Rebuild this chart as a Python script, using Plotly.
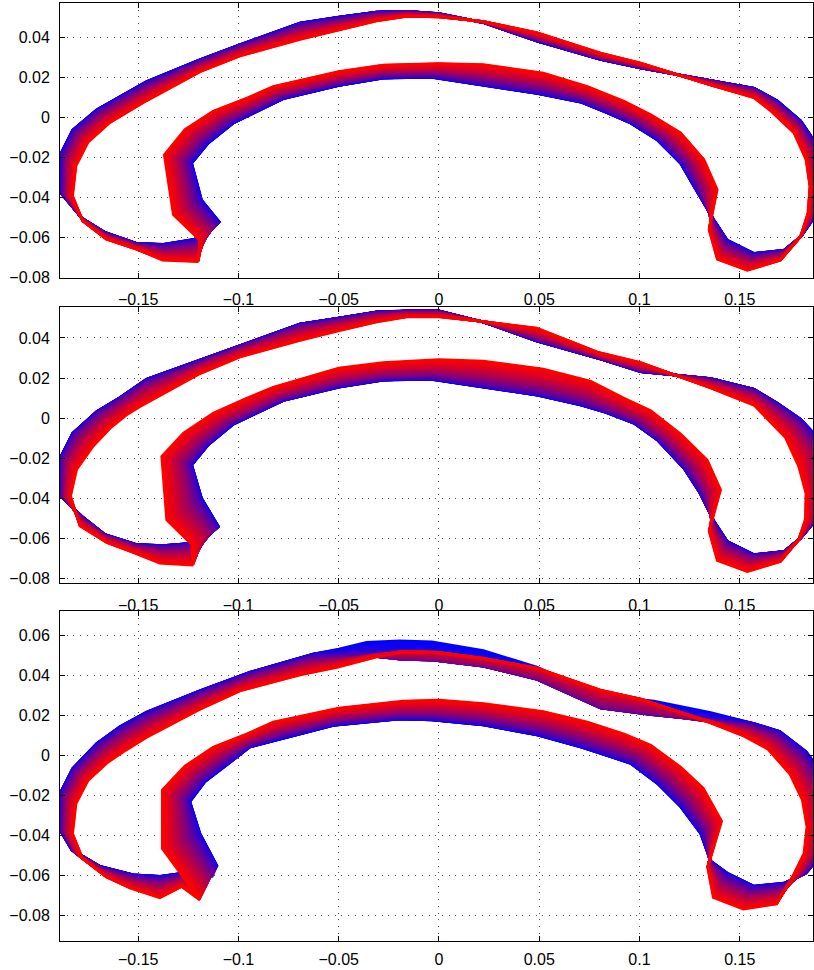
import numpy as np
import plotly.graph_objects as go

# ---------------- data ----------------
X_TICKS = [-0.15, -0.1, -0.05, 0, 0.05, 0.1, 0.15]
X_TICK_TEXT = ["−0.15", "−0.1", "−0.05", "0", "0.05", "0.1", "0.15"]
Y_TICKS_A = [-0.08, -0.06, -0.04, -0.02, 0, 0.02, 0.04]
Y_TICK_TEXT_A = ["−0.08", "−0.06", "−0.04", "−0.02", "0", "0.02", "0.04"]
Y_TICKS_B = [-0.08, -0.06, -0.04, -0.02, 0, 0.02, 0.04, 0.06]
Y_TICK_TEXT_B = ["−0.08", "−0.06", "−0.04", "−0.02", "0", "0.02", "0.04", "0.06"]

# ---- panel 1: start contour (blue) and end contour (red)
BLUE_X_1 = [-0.1190, -0.1375, -0.1508, -0.1666, -0.1780, -0.1885, -0.1885, -0.1827, -0.1707, -0.1591,
            -0.1458, -0.1192, -0.0993, -0.0693, -0.0499, -0.0311, -0.0161, 0.0000, 0.0221, 0.0487,
            0.0806, 0.1006, 0.1355, 0.1571, 0.1687, 0.1804, 0.1880, 0.1880, 0.1875, 0.1804,
            0.1721, 0.1571, 0.1438, 0.1372, 0.1272, 0.1205, 0.1089, 0.0956, 0.0830, 0.0707,
            0.0490, 0.0221, -0.0045, -0.0278, -0.0499, -0.0777, -0.0943, -0.1026, -0.1151, -0.1233,
            -0.1184, -0.1096]
BLUE_Y_1 = [-0.0605, -0.0635, -0.0630, -0.0575, -0.0505, -0.0380, -0.0180, -0.0064, 0.0037, 0.0103,
            0.0178, 0.0287, 0.0362, 0.0470, 0.0500, 0.0525, 0.0529, 0.0517, 0.0472, 0.0380,
            0.0288, 0.0245, 0.0182, 0.0145, 0.0082, -0.0018, -0.0130, -0.0350, -0.0497, -0.0597,
            -0.0664, -0.0680, -0.0614, -0.0514, -0.0347, -0.0230, -0.0114, -0.0030, 0.0025, 0.0075,
            0.0118, 0.0158, 0.0200, 0.0195, 0.0158, 0.0092, 0.0010, -0.0030, -0.0130, -0.0230,
            -0.0414, -0.0522]
RED_X_1 = [-0.1200, -0.1378, -0.1508, -0.1658, -0.1777, -0.1827, -0.1810, -0.1749, -0.1645, -0.1555,
           -0.1458, -0.1192, -0.0993, -0.0693, -0.0499, -0.0311, -0.0161, 0.0000, 0.0221, 0.0487,
           0.0806, 0.1006, 0.1355, 0.1571, 0.1654, 0.1770, 0.1830, 0.1850, 0.1840, 0.1804,
           0.1703, 0.1538, 0.1388, 0.1347, 0.1388, 0.1322, 0.1205, 0.1056, 0.0923, 0.0740,
           0.0520, 0.0221, 0.0000, -0.0278, -0.0499, -0.0826, -0.0959, -0.1126, -0.1267, -0.1370,
           -0.1325, -0.1195]
RED_Y_1 = [-0.0722, -0.0714, -0.0660, -0.0610, -0.0518, -0.0393, -0.0243, -0.0124, -0.0030, 0.0022,
           0.0082, 0.0226, 0.0305, 0.0388, 0.0436, 0.0480, 0.0503, 0.0500, 0.0478, 0.0423,
           0.0320, 0.0270, 0.0160, 0.0097, 0.0032, -0.0078, -0.0211, -0.0345, -0.0478, -0.0595,
           -0.0715, -0.0765, -0.0710, -0.0562, -0.0362, -0.0212, -0.0078, 0.0013, 0.0080, 0.0153,
           0.0220, 0.0263, 0.0268, 0.0260, 0.0228, 0.0153, 0.0095, 0.0030, -0.0062, -0.0188,
           -0.0487, -0.0612]

# ---- panel 2
BLUE_X_2 = [-0.1190, -0.1375, -0.1508, -0.1666, -0.1780, -0.1885, -0.1885, -0.1827, -0.1707, -0.1591,
            -0.1458, -0.1192, -0.0993, -0.0693, -0.0499, -0.0311, -0.0161, 0.0000, 0.0221, 0.0487,
            0.0806, 0.1006, 0.1355, 0.1571, 0.1687, 0.1804, 0.1900, 0.1905, 0.1890, 0.1804,
            0.1721, 0.1571, 0.1438, 0.1372, 0.1300, 0.1222, 0.1089, 0.0973, 0.0830, 0.0707,
            0.0490, 0.0221, -0.0045, -0.0278, -0.0499, -0.0777, -0.0943, -0.1026, -0.1151, -0.1233,
            -0.1184, -0.1100]
BLUE_Y_2 = [-0.0620, -0.0635, -0.0630, -0.0580, -0.0490, -0.0390, -0.0190, -0.0075, 0.0033, 0.0103,
            0.0195, 0.0290, 0.0362, 0.0470, 0.0500, 0.0530, 0.0535, 0.0535, 0.0480, 0.0385,
            0.0295, 0.0232, 0.0198, 0.0145, 0.0075, -0.0005, -0.0108, -0.0350, -0.0497, -0.0597,
            -0.0664, -0.0680, -0.0614, -0.0514, -0.0370, -0.0250, -0.0108, -0.0025, 0.0030, 0.0066,
            0.0115, 0.0155, 0.0195, 0.0190, 0.0155, 0.0088, 0.0008, -0.0030, -0.0133, -0.0233,
            -0.0399, -0.0540]
RED_X_2 = [-0.1226, -0.1392, -0.1525, -0.1657, -0.1791, -0.1837, -0.1807, -0.1724, -0.1640, -0.1560,
           -0.1491, -0.1192, -0.0993, -0.0693, -0.0499, -0.0311, -0.0161, 0.0000, 0.0221, 0.0487,
           0.0790, 0.1006, 0.1355, 0.1571, 0.1630, 0.1727, 0.1794, 0.1830, 0.1827, 0.1794,
           0.1703, 0.1538, 0.1388, 0.1347, 0.1405, 0.1338, 0.1205, 0.1056, 0.0923, 0.0757,
           0.0520, 0.0221, 0.0000, -0.0278, -0.0499, -0.0826, -0.0959, -0.1126, -0.1275, -0.1383,
           -0.1358, -0.1233]
RED_Y_2 = [-0.0733, -0.0723, -0.0670, -0.0620, -0.0537, -0.0388, -0.0256, -0.0139, -0.0050, 0.0015,
           0.0058, 0.0222, 0.0305, 0.0388, 0.0436, 0.0480, 0.0505, 0.0505, 0.0482, 0.0450,
           0.0330, 0.0278, 0.0150, 0.0065, 0.0005, -0.0095, -0.0240, -0.0374, -0.0505, -0.0605,
           -0.0715, -0.0765, -0.0710, -0.0562, -0.0357, -0.0208, -0.0078, 0.0038, 0.0100, 0.0185,
           0.0245, 0.0285, 0.0292, 0.0277, 0.0250, 0.0155, 0.0100, 0.0025, -0.0075, -0.0191,
           -0.0507, -0.0630]

# ---- panel 3
BLUE_X_3 = [-0.1290, -0.1392, -0.1525, -0.1691, -0.1832, -0.1890, -0.1890, -0.1827, -0.1707, -0.1591,
            -0.1458, -0.1192, -0.0943, -0.0627, -0.0499, -0.0361, -0.0195, -0.0036, 0.0221, 0.0487,
            0.0806, 0.1072, 0.1355, 0.1571, 0.1700, 0.1830, 0.1920, 0.1930, 0.1910, 0.1830,
            0.1721, 0.1571, 0.1438, 0.1355, 0.1305, 0.1205, 0.1089, 0.0956, 0.0830, 0.0707,
            0.0490, 0.0221, -0.0036, -0.0195, -0.0527, -0.0777, -0.0943, -0.1026, -0.1167, -0.1242,
            -0.1192, -0.1109]
BLUE_Y_3 = [-0.0592, -0.0606, -0.0598, -0.0556, -0.0473, -0.0375, -0.0192, -0.0067, 0.0058, 0.0142,
            0.0215, 0.0322, 0.0414, 0.0505, 0.0530, 0.0563, 0.0571, 0.0566, 0.0522, 0.0440,
            0.0300, 0.0270, 0.0212, 0.0158, 0.0118, 0.0018, -0.0100, -0.0350, -0.0500, -0.0590,
            -0.0640, -0.0655, -0.0590, -0.0530, -0.0392, -0.0258, -0.0142, -0.0042, 0.0000, 0.0040,
            0.0100, 0.0150, 0.0175, 0.0180, 0.0148, 0.0085, 0.0040, -0.0025, -0.0133, -0.0233,
            -0.0392, -0.0550]
RED_X_3 = [-0.1283, -0.1392, -0.1541, -0.1658, -0.1777, -0.1827, -0.1810, -0.1749, -0.1650, -0.1560,
           -0.1458, -0.1192, -0.0993, -0.0693, -0.0510, -0.0311, -0.0178, 0.0000, 0.0221, 0.0487,
           0.0806, 0.1006, 0.1355, 0.1520, 0.1640, 0.1750, 0.1812, 0.1835, 0.1820, 0.1770,
           0.1684, 0.1518, 0.1368, 0.1340, 0.1410, 0.1318, 0.1205, 0.1056, 0.0923, 0.0740,
           0.0520, 0.0221, 0.0000, -0.0178, -0.0499, -0.0826, -0.0959, -0.1126, -0.1267, -0.1380,
           -0.1380, -0.1192]
RED_Y_3 = [-0.0658, -0.0714, -0.0665, -0.0610, -0.0518, -0.0393, -0.0243, -0.0126, -0.0035, 0.0025,
           0.0088, 0.0228, 0.0320, 0.0400, 0.0438, 0.0490, 0.0515, 0.0510, 0.0482, 0.0435,
           0.0325, 0.0280, 0.0160, 0.0095, 0.0030, -0.0095, -0.0225, -0.0358, -0.0492, -0.0595,
           -0.0745, -0.0770, -0.0712, -0.0560, -0.0330, -0.0165, -0.0060, 0.0050, 0.0105, 0.0165,
           0.0218, 0.0258, 0.0275, 0.0270, 0.0235, 0.0165, 0.0105, 0.0040, -0.0055, -0.0175,
           -0.0467, -0.0725]
# extra vertical excursion of the purple (early-middle) contours in panel 3: top edge dips below the red one
MID_DY_3 = [0, 0, 0, 0, 0, 0, 0, 0, 0, 0,
            0, 0, 0, 0, -0.002, -0.005, -0.008, -0.008, -0.007, -0.006,
            -0.007, -0.007, -0.003, 0, 0, 0, 0, 0, 0, 0,
            0, 0, 0, 0, 0, 0, 0, 0, 0, 0,
            0, 0, 0, 0, 0, 0, 0, 0, 0, 0,
            0, 0]

N_FRAMES = 60
LINE_W = 2.6
X_RANGE = [-0.189, 0.1863]
Y_RANGES = [[-0.0803, 0.0570], [-0.0823, 0.0556], [-0.0928, 0.0720]]
PANELS = [
    dict(bx=BLUE_X_1, by=BLUE_Y_1, rx=RED_X_1, ry=RED_Y_1, dy=None, p=1.5),
    dict(bx=BLUE_X_2, by=BLUE_Y_2, rx=RED_X_2, ry=RED_Y_2, dy=None, p=1.8),
    dict(bx=BLUE_X_3, by=BLUE_Y_3, rx=RED_X_3, ry=RED_Y_3, dy=MID_DY_3, p=1.5),
]

# ---------------- figure ----------------
W, H = 814, 970
X_DOM = [60 / W, 812.5 / W]
Y_DOMS = [[1 - 278 / H, 1 - 3 / H], [1 - 583.3 / H, 1 - 306.7 / H], [1 - 940.7 / H, 1 - 611 / H]]
X_STANDOFF = [7, 7, 4]

fig = go.Figure()
for i, panel in enumerate(PANELS):
    bx, by = np.array(panel["bx"]), np.array(panel["by"])
    rx, ry = np.array(panel["rx"]), np.array(panel["ry"])
    dy = np.array(panel["dy"]) if panel["dy"] is not None else np.zeros_like(by)
    xa = "x" if i == 0 else f"x{i + 1}"
    ya = "y" if i == 0 else f"y{i + 1}"
    for k in range(N_FRAMES):
        t = k / (N_FRAMES - 1)
        s = t ** panel["p"]
        w = 6.75 * t * (1 - t) ** 2      # excursion weight, largest for the purple frames
        xs = (1 - s) * bx + s * rx
        ys = (1 - s) * by + s * ry + w * dy
        xs = np.append(xs, xs[0])
        ys = np.append(ys, ys[0])
        col = f"rgb({round(255 * t)},0,{round(255 * (1 - t))})"
        fig.add_trace(go.Scatter(x=xs, y=ys, mode="lines", xaxis=xa, yaxis=ya,
                                 line=dict(color=col, width=LINE_W), showlegend=False,
                                 hoverinfo="skip"))

font = dict(family="Liberation Sans, Arial, sans-serif", size=16, color="black")
common = dict(ticks="inside", ticklen=5, tickwidth=1, tickcolor="black",
              showline=True, linecolor="black", linewidth=1, mirror="ticks",
              showgrid=True, gridcolor="rgb(80,80,80)", gridwidth=1, griddash="1px,5.7px",
              zeroline=False, tickfont=font)
layout = dict(width=W, height=H, margin=dict(l=0, r=0, t=0, b=0, autoexpand=False),
              paper_bgcolor="white", plot_bgcolor="white", showlegend=False)
for i in range(3):
    sx = "" if i == 0 else str(i + 1)
    yt = (Y_TICKS_B, Y_TICK_TEXT_B) if i == 2 else (Y_TICKS_A, Y_TICK_TEXT_A)
    layout["xaxis" + sx] = dict(domain=X_DOM, range=X_RANGE, anchor="y" + sx,
                                tickvals=X_TICKS, ticktext=X_TICK_TEXT,
                                ticklabelstandoff=X_STANDOFF[i], **common)
    layout["yaxis" + sx] = dict(domain=Y_DOMS[i], range=Y_RANGES[i], anchor="x" + sx,
                                tickvals=yt[0], ticktext=yt[1],
                                ticklabelstandoff=6, **common)
fig.update_layout(**layout)
fig.write_html("out.html", config={"displayModeBar": False},
               post_script="document.body.style.margin='0';document.body.style.overflow='hidden';")
